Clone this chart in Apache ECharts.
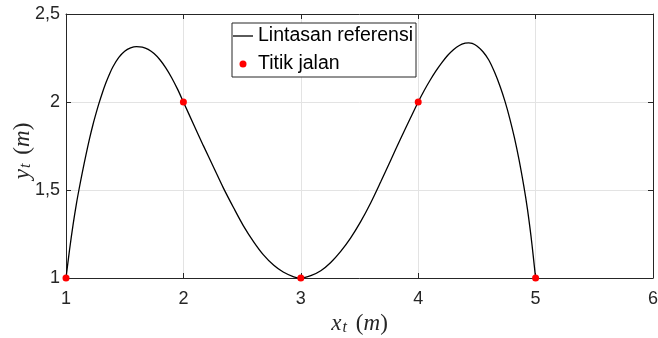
<!DOCTYPE html>
<html>
<head>
<meta charset="utf-8">
<script src="https://cdn.jsdelivr.net/npm/echarts@6/dist/echarts.min.js"></script>
<style>
  html, body { margin: 0; padding: 0; background: #fff; }
  #chart { width: 658px; height: 338px; }
</style>
</head>
<body>
<div id="chart"></div>
<script>
// Reference path (x_t, y_t) sampled along the curve
const pathX = [
  1.00, 1.03, 1.06, 1.09, 1.11, 1.14, 1.17, 1.20, 1.23, 1.26, 1.28, 1.31, 1.34, 1.37, 1.40,
  1.45, 1.50, 1.55, 1.60, 1.65, 1.70, 1.75, 1.80, 1.85, 1.90, 1.95, 2.00,
  2.09, 2.17, 2.26, 2.34, 2.43, 2.51, 2.60, 2.68, 2.77, 2.85, 2.94, 3.00,
  3.085, 3.17, 3.255, 3.34, 3.425, 3.51, 3.595, 3.68, 3.765, 3.85, 3.935, 4.00,
  4.05, 4.10, 4.15, 4.20, 4.25, 4.30, 4.35, 4.40, 4.43, 4.46, 4.50, 4.55, 4.60, 4.65,
  4.70, 4.74, 4.78, 4.82, 4.86, 4.90, 4.93, 4.96, 4.98, 5.00
];
const pathY = [
  1.000, 1.159, 1.302, 1.427, 1.500, 1.603, 1.700, 1.790, 1.872, 1.945, 1.991, 2.053, 2.109, 2.158, 2.200,
  2.253, 2.288, 2.307, 2.315, 2.312, 2.299, 2.275, 2.240, 2.194, 2.138, 2.073, 2.000,
  1.868, 1.752, 1.625, 1.512, 1.396, 1.298, 1.204, 1.133, 1.072, 1.034, 1.007, 1.000,
  1.013, 1.041, 1.088, 1.151, 1.228, 1.320, 1.426, 1.545, 1.668, 1.791, 1.910, 2.000,
  2.064, 2.122, 2.175, 2.222, 2.264, 2.297, 2.321, 2.334, 2.336, 2.333, 2.318, 2.287, 2.240, 2.170,
  2.084, 2.002, 1.906, 1.796, 1.668, 1.520, 1.394, 1.242, 1.124, 1.000
];

// Waypoints
const wayX = [1, 2, 3, 4, 5];
const wayY = [1, 2, 1, 2, 1];

// Axis tick labels (comma as decimal separator)
const xTickLabels = ['1', '2', '3', '4', '5', '6'];
const yTickValues = [1, 1.5, 2, 2.5];
const yTickLabels = ['1', '1,5', '2', '2,5'];

const seriesNames = ['Lintasan referensi', 'Titik jalan'];

const AX = '#262626';
const GRIDC = '#e3e3e3';
const SANS = '"Liberation Sans", Arial, Helvetica, sans-serif';
const SERIF = '"Liberation Serif", "DejaVu Serif", serif';

const mathRich = {
  v: { fontFamily: SERIF, fontStyle: 'italic', fontSize: 23, color: AX },
  s: { fontFamily: SERIF, fontStyle: 'italic', fontSize: 16, color: AX, verticalAlign: 'bottom', lineHeight: 16, padding: [0, 0, 0, 1] },
  g: { fontFamily: SERIF, fontSize: 23, color: AX, width: 9 },
  p: { fontFamily: SERIF, fontSize: 23, color: AX }
};

const chart = echarts.init(document.getElementById('chart'), null, { renderer: 'canvas' });

const lineData = pathX.map((x, i) => [x, pathY[i]]);
const wayData = wayX.map((x, i) => [x, wayY[i]]);

const tickStyle = { show: true, inside: true, length: 5, lineStyle: { color: AX, width: 1 } };

chart.setOption({
  animation: false,
  backgroundColor: '#fff',
  grid: { left: 66, right: 5, top: 14, bottom: 60, containLabel: false, outerBoundsMode: 'none' },
  xAxis: [
    {
      type: 'value', min: 1, max: 6, interval: 1, position: 'bottom',
      axisLine: { show: true, onZero: false, lineStyle: { color: AX, width: 1 } },
      axisTick: tickStyle,
      axisLabel: {
        color: AX, fontFamily: SANS, fontSize: 18, margin: 12,
        formatter: v => xTickLabels[Math.round(v) - 1]
      },
      splitLine: { show: true, lineStyle: { color: GRIDC, width: 1 } },
      name: '{v|x}{s|t}{g| }{p|(}{v|m}{p|)}',
      nameLocation: 'middle', nameGap: 31,
      nameTextStyle: { rich: mathRich }
    },
    {
      type: 'value', min: 1, max: 6, interval: 1, position: 'top',
      axisLine: { show: true, onZero: false, lineStyle: { color: AX, width: 1 } },
      axisTick: tickStyle, axisLabel: { show: false }, splitLine: { show: false }
    }
  ],
  yAxis: [
    {
      type: 'value', min: 1, max: 2.5, interval: 0.5, position: 'left',
      axisLine: { show: true, onZero: false, lineStyle: { color: AX, width: 1 } },
      axisTick: tickStyle,
      axisLabel: {
        color: AX, fontFamily: SANS, fontSize: 18, margin: 6,
        formatter: v => {
          const k = yTickValues.findIndex(t => Math.abs(t - v) < 1e-9);
          return k >= 0 ? yTickLabels[k] : '';
        }
      },
      splitLine: { show: true, lineStyle: { color: GRIDC, width: 1 } },
      name: '{v|y}{s|t}{g| }{p|(}{v|m}{p|)}',
      nameLocation: 'middle', nameGap: 32, nameMoveOverlap: false,
      nameTextStyle: { rich: mathRich, padding: [0, 10, 0, 0] }
    },
    {
      type: 'value', min: 1, max: 2.5, interval: 0.5, position: 'right',
      axisLine: { show: true, onZero: false, lineStyle: { color: AX, width: 1 } },
      axisTick: tickStyle, axisLabel: { show: false }, splitLine: { show: false }
    }
  ],
  legend: {
    orient: 'vertical',
    left: 232, top: 23,
    padding: [3, 3, 3, 1],
    itemGap: 8,
    itemWidth: 20, itemHeight: 7,
    symbolKeepAspect: true,
    borderColor: AX, borderWidth: 1, backgroundColor: '#fff', borderRadius: 0,
    textStyle: { fontFamily: SANS, fontSize: 19.5, color: '#000' },
    data: [
      { name: seriesNames[0], icon: 'path://M0,0H20V1.3H0Z', itemStyle: { color: '#000' } },
      { name: seriesNames[1], icon: 'circle', itemStyle: { color: '#ff0000', opacity: 1 } }
    ]
  },
  series: [
    {
      name: seriesNames[0], type: 'line', data: lineData,
      symbol: 'none', smooth: 0.3,
      lineStyle: { color: '#000', width: 1.3 },
      itemStyle: { color: '#000' },
      z: 2
    },
    {
      name: seriesNames[1], type: 'scatter', data: wayData,
      symbol: 'circle', symbolSize: 7,
      itemStyle: { color: '#ff0000', opacity: 1 },
      clip: false, z: 3
    }
  ]
});
</script>
</body>
</html>
